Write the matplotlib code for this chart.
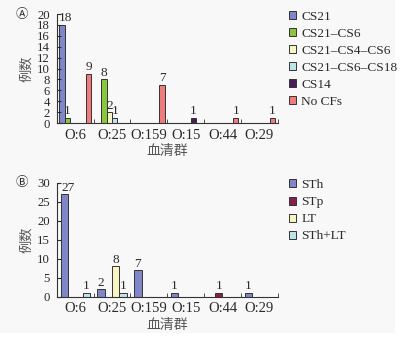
import numpy as np
import matplotlib.pyplot as plt
from matplotlib.patches import Rectangle

plt.rcParams['font.family'] = ['Liberation Serif', 'Noto Sans CJK SC']
TXT = '#2a2a2a'
CJK = ['Noto Sans CJK SC', 'DejaVu Sans']

# ==== Daten ====
groups = ['O:6', 'O:25', 'O:159', 'O:15', 'O:44', 'O:29']

a_names = ['CS21', 'CS21–CS6', 'CS21–CS4–CS6', 'CS21–CS6–CS18', 'CS14', 'No CFs']
a_cs21 = [18, 0, 0, 0, 0, 0]
a_cs21_cs6 = [1, 8, 0, 0, 0, 0]
a_cs21_cs4_cs6 = [0, 2, 0, 0, 0, 0]
a_cs21_cs6_cs18 = [0, 1, 0, 0, 0, 0]
a_cs14 = [0, 0, 0, 1, 0, 0]
a_nocfs = [9, 0, 7, 0, 1, 1]
a_colors = ['#7f86c9', '#8cc63e', '#f7f5c2', '#bfe3ea', '#4a1d58', '#ef7b7b']

b_names = ['STh', 'STp', 'LT', 'STh+LT']
b_sth = [27, 2, 7, 1, 0, 1]
b_stp = [0, 0, 0, 0, 1, 0]
b_lt = [0, 8, 0, 0, 0, 0]
b_sth_lt = [1, 1, 0, 0, 0, 0]
b_colors = ['#7f86c9', '#8a1f4f', '#f7f5c2', '#bfe3ea']

fig = plt.figure(figsize=(4.06, 3.42), dpi=100, facecolor='white')
fig.patches.append(Rectangle((0, 0.026), 395 / 406, 0.974, transform=fig.transFigure,
                             facecolor='#f8f8f8', edgecolor='none', zorder=-10))


def panel(ax, series, names, colors, bw, ymax, ystep, letter):
    x = np.arange(len(groups))
    n = len(series)
    start = -bw * n / 2 + bw / 2
    for i, (vals, name, c) in enumerate(zip(series, names, colors)):
        pos = x + start + i * bw
        ax.bar(pos, vals, width=bw, color=c, edgecolor='#333333', linewidth=0.7, label=name)
        for p, v in zip(pos, vals):
            if v > 0:
                # die Zahl über dem ersten Balken etwas nach rechts, wie im Original
                dx = 0.1 if (p < 0 and v >= 10) else 0
                ax.text(p + dx, v + ymax * 0.005, str(v), ha='center', va='bottom',
                        fontsize=9.6, color=TXT)
    ax.set_xlim(-0.5, len(groups) - 0.5)
    ax.set_ylim(0, ymax)
    ax.set_yticks(np.arange(0, ymax + 1, ystep))
    ax.set_xticks(x)
    ax.set_xticklabels(groups)
    ax.set_xticks(np.arange(-0.5, len(groups), 1), minor=True)
    ax.tick_params(axis='x', which='major', length=0, labelsize=10.5, colors=TXT, pad=4)
    ax.tick_params(axis='x', which='minor', direction='in', length=3, color='#333333')
    ax.tick_params(axis='y', direction='in', length=3, labelsize=9.2, colors=TXT, pad=5)
    ax.spines['top'].set_visible(False)
    ax.spines['right'].set_visible(False)
    for s in ('left', 'bottom'):
        ax.spines[s].set_color('#333333')
        ax.spines[s].set_linewidth(0.8)
    ax.set_facecolor('none')
    ax.set_ylabel('例数', family=CJK, fontsize=9.5, color='#555555', labelpad=3)
    ax.set_xlabel('血清群', family=CJK, fontsize=10, color='#555555', labelpad=2)
    ax.text(-0.158, 1.0, letter, transform=ax.transAxes, family=CJK, fontsize=9,
            color=TXT, ha='center', va='center')
    leg = ax.legend(loc='upper left', bbox_to_anchor=(1.025, 1.08), frameon=False,
                    fontsize=9.6, handlelength=0.55, handleheight=0.55, handletextpad=0.4,
                    labelspacing=0.38, borderaxespad=0)
    for t in leg.get_texts():
        t.set_color(TXT)


ax1 = fig.add_axes([0.140, 0.640, 0.544, 0.319])
panel(ax1, [a_cs21, a_cs21_cs6, a_cs21_cs4_cs6, a_cs21_cs6_cs18, a_cs14, a_nocfs],
      a_names, a_colors, 0.144, 20, 2, 'Ⓐ')

ax2 = fig.add_axes([0.140, 0.132, 0.544, 0.333])
panel(ax2, [b_sth, b_stp, b_lt, b_sth_lt], b_names, b_colors, 0.2, 30, 5, 'Ⓑ')

fig.savefig('out.png', dpi=100, facecolor=fig.get_facecolor())
